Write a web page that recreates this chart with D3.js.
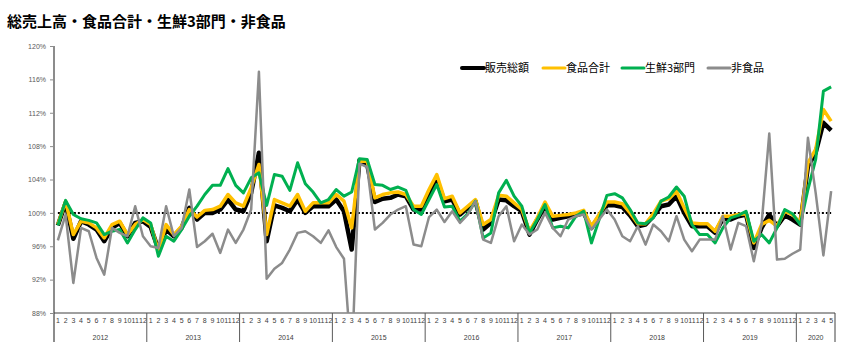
<!DOCTYPE html>
<html>
<head>
<meta charset="utf-8">
<script src="https://cdn.jsdelivr.net/npm/d3@7"></script>
<style>
  body { margin: 0; background: #fff; }
  svg { display: block; }
</style>
</head>
<body>
<svg id="chart" width="859" height="364"></svg>
<script>
'use strict';

var years = ['2012', '2013', '2014', '2015', '2016', '2017', '2018', '2019', '2020'];
var monthsInYear = [12, 12, 12, 12, 12, 12, 12, 12, 5];
var yTicks = [88, 92, 96, 100, 104, 108, 112, 116, 120];
var seriesNames = ['販売総額', '食品合計', '生鮮3部門', '非食品'];
var seriesColors = ['#000000', '#ffc000', '#00b050', '#8c8c8c'];

// one row per year, Jan..Dec (2020 ends at May)
var sales = [
  98.5, 101.2, 96.9, 99.0, 98.6, 98.0, 96.6, 98.2, 98.8, 97.2, 98.8, 99.0,
  98.3, 95.6, 98.0, 97.2, 98.2, 100.6, 99.2, 100.0, 100.0, 100.4, 101.6, 100.4,
  100.2, 102.4, 107.2, 96.6, 100.9, 100.6, 100.2, 101.6, 100.0, 100.8, 100.8, 100.8,
  101.6, 100.2, 95.6, 106.3, 105.8, 101.3, 101.7, 101.8, 102.2, 102.0, 100.4, 100.4,
  102.2, 104.0, 101.4, 101.6, 99.8, 100.6, 101.4, 98.0, 98.8, 101.6, 101.5, 100.8,
  100.2, 97.4, 99.2, 100.8, 99.2, 99.4, 99.6, 99.7, 100.0, 98.2, 99.6, 100.9,
  100.9, 100.7, 99.7, 98.4, 98.6, 99.6, 100.8, 101.0, 102.0, 100.0, 98.4, 98.4,
  98.4, 97.6, 99.3, 99.2, 99.6, 99.8, 95.8, 98.2, 99.8, 98.4, 99.7, 99.2,
  98.6, 105.6, 107.2, 110.8, 109.9
];
var food = [
  98.6, 101.4, 97.4, 99.0, 98.8, 98.2, 97.0, 98.6, 99.0, 97.4, 98.6, 99.2,
  98.6, 95.4, 98.6, 97.4, 98.4, 100.4, 99.5, 100.3, 100.4, 100.8, 102.2, 101.2,
  100.8, 103.0, 105.8, 97.4, 101.6, 101.2, 100.8, 102.2, 100.2, 101.2, 101.2, 101.2,
  102.2, 101.4, 98.2, 106.2, 106.2, 101.8, 102.2, 102.4, 102.5, 102.2, 100.8, 100.8,
  102.8, 104.6, 101.7, 102.0, 100.0, 100.8, 101.6, 98.6, 99.2, 102.1, 102.0, 101.2,
  100.4, 97.8, 99.4, 101.3, 99.6, 99.7, 99.8, 100.0, 100.3, 98.4, 99.8, 101.3,
  101.3, 101.1, 100.0, 98.7, 98.7, 99.9, 101.4, 101.7, 102.6, 100.6, 98.8, 98.7,
  98.7, 97.8, 99.6, 99.6, 99.8, 99.9, 96.4, 98.6, 99.1, 98.4, 100.2, 99.8,
  98.8, 106.0, 107.6, 112.4, 111.0
];
var fresh = [
  98.5, 101.5, 99.8, 99.3, 99.1, 98.8, 97.4, 97.8, 98.0, 96.4, 98.0, 99.4,
  98.8, 94.8, 97.2, 96.6, 98.0, 99.6, 100.8, 102.2, 103.3, 103.3, 105.3, 103.3,
  102.4, 104.2, 104.8, 100.9, 104.6, 104.4, 102.7, 106.0, 103.5, 102.5, 101.2, 101.6,
  102.8, 102.0, 102.5, 106.5, 106.4, 103.4, 103.3, 102.8, 103.1, 102.7, 100.4, 99.8,
  101.6, 103.4, 100.7, 100.8, 99.0, 99.9, 101.4, 97.0, 97.6, 102.4, 103.9, 102.0,
  100.8, 97.6, 99.2, 101.0, 98.2, 98.4, 98.2, 99.6, 100.2, 96.4, 99.2, 102.1,
  102.3, 101.8, 100.4, 98.8, 98.7, 99.4, 101.4, 101.9, 103.1, 102.0, 98.6, 97.4,
  97.4, 96.4, 98.2, 99.4, 99.7, 100.2, 96.6, 97.4, 96.4, 98.2, 100.4, 99.9,
  98.6, 102.8, 106.4, 114.6, 115.1
];
var nonFood = [
  96.7, 99.8, 91.6, 98.2, 97.8, 94.6, 92.6, 98.2, 97.6, 97.2, 100.8, 97.2,
  96.0, 95.8, 100.8, 97.2, 98.2, 102.8, 95.9, 96.6, 97.5, 95.2, 98.0, 96.4,
  98.0, 100.4, 116.9, 92.1, 93.3, 94.0, 95.6, 97.6, 97.8, 97.2, 96.4, 97.9,
  95.9, 94.5, 82.0, 105.9, 105.5, 98.0, 98.8, 99.8, 100.4, 100.8, 96.2, 96.0,
  99.5, 100.4, 98.9, 100.2, 98.8, 99.8, 101.4, 96.8, 96.4, 99.6, 100.8, 96.6,
  98.6, 97.4, 98.0, 100.0, 98.2, 97.2, 99.2, 99.6, 99.8, 98.0, 99.2, 100.4,
  99.2, 97.2, 96.6, 98.4, 96.2, 98.6, 97.8, 96.6, 99.6, 96.8, 95.4, 96.8,
  96.8, 96.8, 99.6, 95.6, 98.8, 98.4, 94.2, 98.6, 109.5, 94.4, 94.5, 95.1,
  95.6, 109.0, 102.4, 94.9, 102.6
];
var seriesValues = [sales, food, fresh, nonFood];

var svg = d3.select('#chart');
var plotLeft = 54, plotRight = 835, plotTop = 46, plotBottom = 313, sepBottom = 342;

// month index list and labels
var months = [];
years.forEach(function (yr, yi) {
  for (var m = 1; m <= monthsInYear[yi]; m++) {
    months.push({ idx: months.length, year: yr, month: m });
  }
});

var x = d3.scaleBand().domain(months.map(function (d) { return d.idx; })).range([plotLeft, plotRight]).padding(0);
var y = d3.scaleLinear().domain([88, 120]).range([plotBottom, plotTop]);
function cx(i) { return x(i) + x.bandwidth() / 2; }

// title
svg.append('text').attr('x', 7).attr('y', 27)
  .style('font-family', '"Noto Sans CJK JP", sans-serif').style('font-weight', 'bold').style('font-size', '15px')
  .text('総売上高・食品合計・生鮮3部門・非食品');

// y axis
var yAxis = d3.axisLeft(y).tickValues(yTicks).tickSize(4).tickFormat(function (d) { return d + '%'; });
var gy = svg.append('g').attr('transform', 'translate(' + plotLeft + ',0)').call(yAxis);
gy.select('.domain').remove();
gy.selectAll('.tick line').attr('stroke', '#8c8c8c');
gy.selectAll('.tick text').attr('x', -8).attr('fill', '#595959')
  .style('font-family', '"Liberation Sans", Arial, sans-serif').style('font-size', '7px');
svg.append('line').attr('x1', plotLeft).attr('x2', plotLeft).attr('y1', plotTop).attr('y2', sepBottom)
  .attr('stroke', '#8c8c8c').attr('stroke-width', 2);

// x axis with month labels
var xAxis = d3.axisBottom(x).tickSize(0).tickFormat(function (i) { return months[i].month; });
var gx = svg.append('g').attr('transform', 'translate(0,' + plotBottom + ')').call(xAxis);
gx.select('.domain').attr('stroke', '#404040').attr('d', 'M' + plotLeft + ',0H' + plotRight);
gx.selectAll('.tick text').attr('y', 5).attr('fill', '#404040')
  .style('font-family', '"Liberation Sans", Arial, sans-serif').style('font-size', '7px');

// year separators and labels
var yearStart = 0;
years.forEach(function (yr, yi) {
  var x0 = x(yearStart);
  var x1 = x(yearStart + monthsInYear[yi] - 1) + x.bandwidth();
  if (yi > 0) {
    svg.append('line').attr('x1', x0).attr('x2', x0).attr('y1', plotBottom).attr('y2', sepBottom)
      .attr('stroke', '#595959').attr('stroke-width', 1);
  }
  svg.append('text').attr('x', (x0 + x1) / 2).attr('y', 340).attr('text-anchor', 'middle')
    .attr('fill', '#404040').style('font-family', '"Liberation Sans", Arial, sans-serif').style('font-size', '7px')
    .text(yr);
  yearStart += monthsInYear[yi];
});
svg.append('line').attr('x1', plotRight).attr('x2', plotRight).attr('y1', plotBottom).attr('y2', sepBottom)
  .attr('stroke', '#404040').attr('stroke-width', 1);

// 100% reference line
svg.append('line').attr('x1', cx(0)).attr('x2', cx(months.length - 1)).attr('y1', y(100)).attr('y2', y(100))
  .attr('stroke', '#000').attr('stroke-width', 2).attr('stroke-dasharray', '2,2');

// clip plot area
svg.append('clipPath').attr('id', 'plotClip').append('rect')
  .attr('x', plotLeft).attr('y', 0).attr('width', plotRight - plotLeft).attr('height', plotBottom);

var line = d3.line().x(function (d, i) { return cx(i); }).y(function (d) { return y(d); });
var widths = [4.5, 3.5, 3, 2.5];
var plot = svg.append('g').attr('clip-path', 'url(#plotClip)');
seriesValues.forEach(function (vals, si) {
  plot.append('path').datum(vals).attr('d', line).attr('fill', 'none')
    .attr('stroke', seriesColors[si]).attr('stroke-width', widths[si])
    .attr('stroke-linejoin', 'round');
});

// legend
var legendX = [462, 543, 622, 708];
var legend = svg.append('g');
seriesNames.forEach(function (name, si) {
  var lx = legendX[si];
  legend.append('line').attr('x1', lx).attr('x2', lx + 22).attr('y1', 68).attr('y2', 68)
    .attr('stroke', seriesColors[si]).attr('stroke-width', si === 0 ? 4 : 3).attr('stroke-linecap', 'round');
  legend.append('text').attr('x', lx + 23).attr('y', 72)
    .style('font-family', '"Noto Sans CJK JP", sans-serif').style('font-size', '11px')
    .text(name);
});
</script>
</body>
</html>
